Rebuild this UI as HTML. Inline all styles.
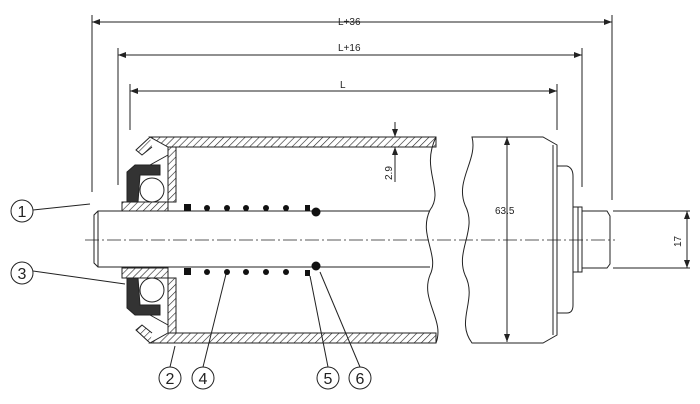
<!DOCTYPE html>
<html><head><style>body{margin:0;background:#fff}svg{display:block}text{font-family:"Liberation Sans",sans-serif;fill:#222}</style></head><body>
<svg width="700" height="404" viewBox="0 0 700 404" xmlns="http://www.w3.org/2000/svg">
<defs>
<pattern id="h" width="5" height="5" patternUnits="userSpaceOnUse" patternTransform="rotate(45)"><line x1="0" y1="0" x2="0" y2="5" stroke="#222" stroke-width="1.2"/></pattern>
<marker id="a" markerWidth="8" markerHeight="6" refX="8" refY="3" orient="auto-start-reverse"><path d="M0,0L8,3L0,6z" fill="#222"/></marker>
</defs>
<g stroke="#222" stroke-width="1" fill="none">
<!-- dimension lines -->
<line x1="92" y1="15" x2="92" y2="192"/><line x1="612" y1="15" x2="612" y2="200"/>
<line x1="92" y1="22" x2="612" y2="22" marker-start="url(#a)" marker-end="url(#a)"/>
<line x1="118" y1="48" x2="118" y2="185"/><line x1="582" y1="48" x2="582" y2="187"/>
<line x1="118" y1="55" x2="582" y2="55" marker-start="url(#a)" marker-end="url(#a)"/>
<line x1="130" y1="84" x2="130" y2="130"/><line x1="557" y1="84" x2="557" y2="130"/>
<line x1="130" y1="91" x2="557" y2="91" marker-start="url(#a)" marker-end="url(#a)"/>
<!-- tube -->
<path d="M150,137 L436,137 L436,147 L168,147 Z" fill="url(#h)"/>
<path d="M150,343 L436,343 L436,333 L168,333 Z" fill="url(#h)"/>
<path d="M150,137 L136,150 L142,155 L152,147" fill="url(#h)"/>
<path d="M150,343 L136,330 L142,325 L152,333" fill="url(#h)"/>
<!-- bearing housing -->
<path d="M168,147 L176,147 L176,202 L122,202 L122,211 L168,211 Z" fill="url(#h)"/>
<path d="M168,333 L176,333 L176,278 L122,278 L122,268 L168,268 Z" fill="url(#h)"/>
<path d="M168,155 L150,165" /><path d="M168,325 L150,315"/>
<path d="M127,172 L135,165 L160,165 L160,175 L140,175 L138,202 L127,202 Z" fill="#333"/>
<path d="M127,308 L135,315 L160,315 L160,305 L140,305 L138,278 L127,278 Z" fill="#333"/>
<circle cx="152" cy="190" r="12" fill="#fff"/><circle cx="152" cy="290" r="12" fill="#fff"/>
<!-- break lines tube -->
<path d="M436,137 C420,170 445,190 430,210 C418,235 440,255 430,275 C420,300 445,320 436,343"/>
<!-- shaft -->
<path d="M430,211 L98,211 L94,215 L94,263 L98,267 L430,267"/>
<line x1="98" y1="211" x2="98" y2="267"/>
<!-- drum -->
<path d="M472,137 L543,137 L557,145 L557,335 L543,343 L472,343 C455,320 478,300 465,275 C455,250 478,230 465,205 C455,180 478,160 472,137 Z"/>
<line x1="553" y1="145" x2="553" y2="335"/>
<path d="M557,166 L567,166 Q573,168 573,176 L573,305 Q573,313 567,313 L557,313"/>
<path d="M573,207 L582,207 L582,272 L573,272"/><line x1="578" y1="207" x2="578" y2="272"/>
<path d="M582,211 L607,211 L610,216 L610,264 L607,268 L582,268"/>
<line x1="613" y1="211" x2="690" y2="211"/><line x1="613" y1="268" x2="690" y2="268"/>
<line x1="687" y1="211" x2="687" y2="268" marker-start="url(#a)" marker-end="url(#a)"/>
<line x1="507" y1="137" x2="507" y2="342" marker-start="url(#a)" marker-end="url(#a)"/>
<line x1="395" y1="122" x2="395" y2="137" marker-end="url(#a)"/>
<line x1="395" y1="162" x2="395" y2="147" marker-end="url(#a)"/>
<line x1="395" y1="147" x2="395" y2="182"/>
<!-- centerline -->
<line x1="85" y1="240" x2="615" y2="240" stroke-dasharray="14,3,2,3" stroke-width="0.8"/>
<!-- leaders -->
<line x1="33" y1="210" x2="90" y2="204"/>
<line x1="33" y1="271" x2="125" y2="284"/>
<line x1="170" y1="367" x2="175" y2="346"/>
<line x1="203" y1="367" x2="226" y2="274"/>
<line x1="328" y1="367" x2="310" y2="276"/>
<line x1="360" y1="367" x2="320" y2="272"/>
<g stroke-width="1">
<circle cx="22" cy="211" r="11"/><circle cx="22" cy="273" r="11"/>
<circle cx="170" cy="378" r="11"/><circle cx="203" cy="378" r="11"/>
<circle cx="328" cy="378" r="11"/><circle cx="360" cy="378" r="11"/>
</g>
</g>
<g fill="#111">
<rect x="184" y="204" width="7" height="7"/><rect x="184" y="268" width="7" height="7"/>
<circle cx="207" cy="208" r="3"/><circle cx="227" cy="208" r="3"/><circle cx="246" cy="208" r="3"/><circle cx="266" cy="208" r="3"/><circle cx="286" cy="208" r="3"/>
<circle cx="207" cy="272" r="3"/><circle cx="227" cy="272" r="3"/><circle cx="246" cy="272" r="3"/><circle cx="266" cy="272" r="3"/><circle cx="286" cy="272" r="3"/>
<rect x="305" y="205" width="5" height="6"/><rect x="305" y="270" width="5" height="6"/>
<circle cx="316" cy="212" r="4.5"/><circle cx="316" cy="266" r="4.5"/>
</g>
<g font-size="10">
<text x="338" y="25">L+36</text><text x="338" y="51">L+16</text><text x="340" y="88">L</text>
<text x="495" y="214">63.5</text>
<text x="0" y="0" transform="translate(681,247) rotate(-90)">17</text>
<text x="0" y="0" transform="translate(392,180) rotate(-90)">2.9</text>
</g>
<g font-size="16" text-anchor="middle">
<text x="22" y="217">1</text><text x="22" y="279">3</text>
<text x="170" y="384">2</text><text x="203" y="384">4</text>
<text x="328" y="384">5</text><text x="360" y="384">6</text>
</g>
</svg>
</body></html>
